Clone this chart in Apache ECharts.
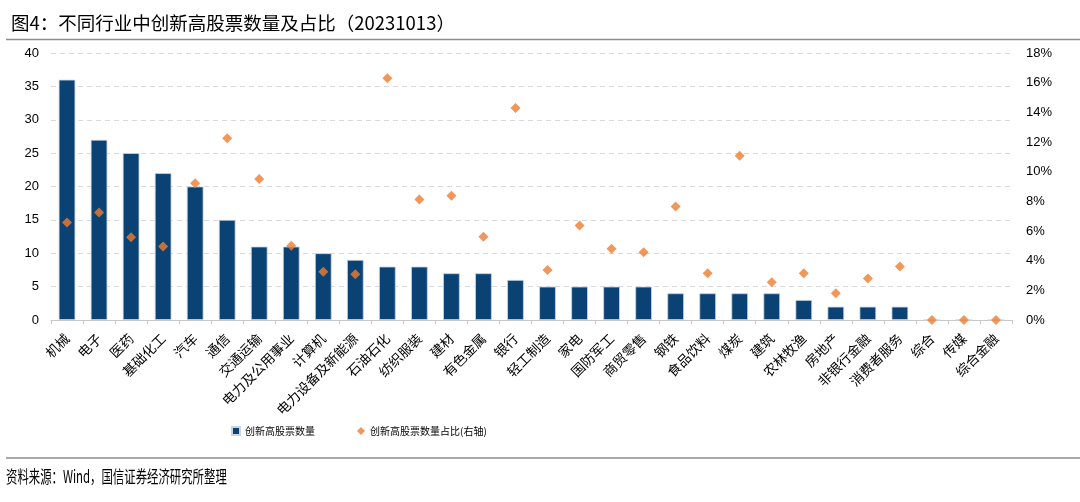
<!DOCTYPE html>
<html>
<head>
<meta charset="utf-8">
<script src="https://cdn.jsdelivr.net/npm/echarts@6/dist/echarts.min.js"></script>
<style>
  html, body { margin: 0; padding: 0; background: #fff; }
  #main { width: 1080px; height: 502px; }
</style>
</head>
<body>
<div id="main"></div>
<script>
// 行业分类
var industries = ['机械', '电子', '医药', '基础化工', '汽车', '通信', '交通运输', '电力及公用事业', '计算机', '电力设备及新能源',
  '石油石化', '纺织服装', '建材', '有色金属', '银行', '轻工制造', '家电', '国防军工', '商贸零售', '钢铁',
  '食品饮料', '煤炭', '建筑', '农林牧渔', '房地产', '非银行金融', '消费者服务', '综合', '传媒', '综合金融'];
// 创新高股票数量
var counts = [36, 27, 25, 22, 20, 15, 11, 11, 10, 9, 8, 8, 7, 7, 6, 5, 5, 5, 5, 4, 4, 4, 4, 3, 2, 2, 2, 0, 0, 0];
// 创新高股票数量占比（%）
var ratios = [6.57, 7.24, 5.58, 4.95, 9.22, 12.26, 9.5, 5.01, 3.26, 3.08,
  16.29, 8.12, 8.37, 5.62, 14.29, 3.37, 6.37, 4.81, 4.57, 7.65,
  3.15, 11.07, 2.54, 3.15, 1.8, 2.79, 3.6, 0, 0, 0];

var chart = echarts.init(document.getElementById('main'));
var option = {
  animation: false,
  title: {
    text: '图4：不同行业中创新高股票数量及占比（20231013）',
    left: 6,
    top: 9,
    textStyle: {
      fontFamily: 'Noto Sans CJK SC',
      fontSize: 18.5,
      fontWeight: 'normal',
      color: '#000'
    }
  },
  graphic: [
    { type: 'line', shape: { x1: 6, y1: 39.5, x2: 1080, y2: 39.5 }, style: { stroke: '#8c8c8c', lineWidth: 1.5 } },
    { type: 'line', shape: { x1: 6, y1: 458, x2: 1080, y2: 458 }, style: { stroke: '#8c8c8c', lineWidth: 1.5 } },
    {
      type: 'text', x: 6, y: 468, scaleX: 0.67,
      style: { text: '资料来源：Wind，国信证券经济研究所整理', font: '17px "Noto Sans CJK SC"', fill: '#000' }
    }
  ],
  legend: {
    top: 421,
    left: 226,
    itemGap: 42,
    itemWidth: 8,
    itemHeight: 8,
    textStyle: { fontFamily: 'Noto Sans CJK SC', fontSize: 10, color: '#000' },
    data: [
      { name: '创新高股票数量', icon: 'rect' },
      { name: '创新高股票数量占比(右轴)', icon: 'diamond' }
    ]
  },
  grid: { left: 51, right: 68, top: 53, bottom: 182 },
  xAxis: {
    type: 'category',
    data: industries,
    axisLine: { lineStyle: { color: '#c8c8c8' } },
    axisTick: { show: true, length: 4, lineStyle: { color: '#c8c8c8' } },
    axisLabel: {
      interval: 0,
      rotate: 45,
      fontFamily: 'Noto Sans CJK SC',
      fontSize: 13.5,
      color: '#000',
      margin: 16
    }
  },
  yAxis: [
    {
      type: 'value',
      min: 0,
      max: 40,
      interval: 5,
      axisLine: { show: false },
      axisTick: { show: false },
      axisLabel: { fontFamily: 'Arial', fontSize: 13, color: '#000', margin: 12 },
      splitLine: { lineStyle: { color: '#d9d9d9', type: [5, 4] } }
    },
    {
      type: 'value',
      min: 0,
      max: 18,
      interval: 2,
      position: 'right',
      axisLine: { show: false },
      axisTick: { show: false },
      splitLine: { show: false },
      axisLabel: { fontFamily: 'Arial', fontSize: 13, color: '#000', margin: 14, formatter: '{value}%' }
    }
  ],
  series: [
    {
      name: '创新高股票数量',
      type: 'bar',
      barWidth: '52%',
      data: counts,
      itemStyle: { color: '#0a4273', borderColor: '#c9d4e3', borderWidth: 0.8 }
    },
    {
      name: '创新高股票数量占比(右轴)',
      type: 'scatter',
      yAxisIndex: 1,
      symbol: 'diamond',
      symbolSize: 10,
      data: ratios,
      itemStyle: { color: '#ed7d31' }
    }
  ]
};
chart.setOption(option);
</script>
</body>
</html>
